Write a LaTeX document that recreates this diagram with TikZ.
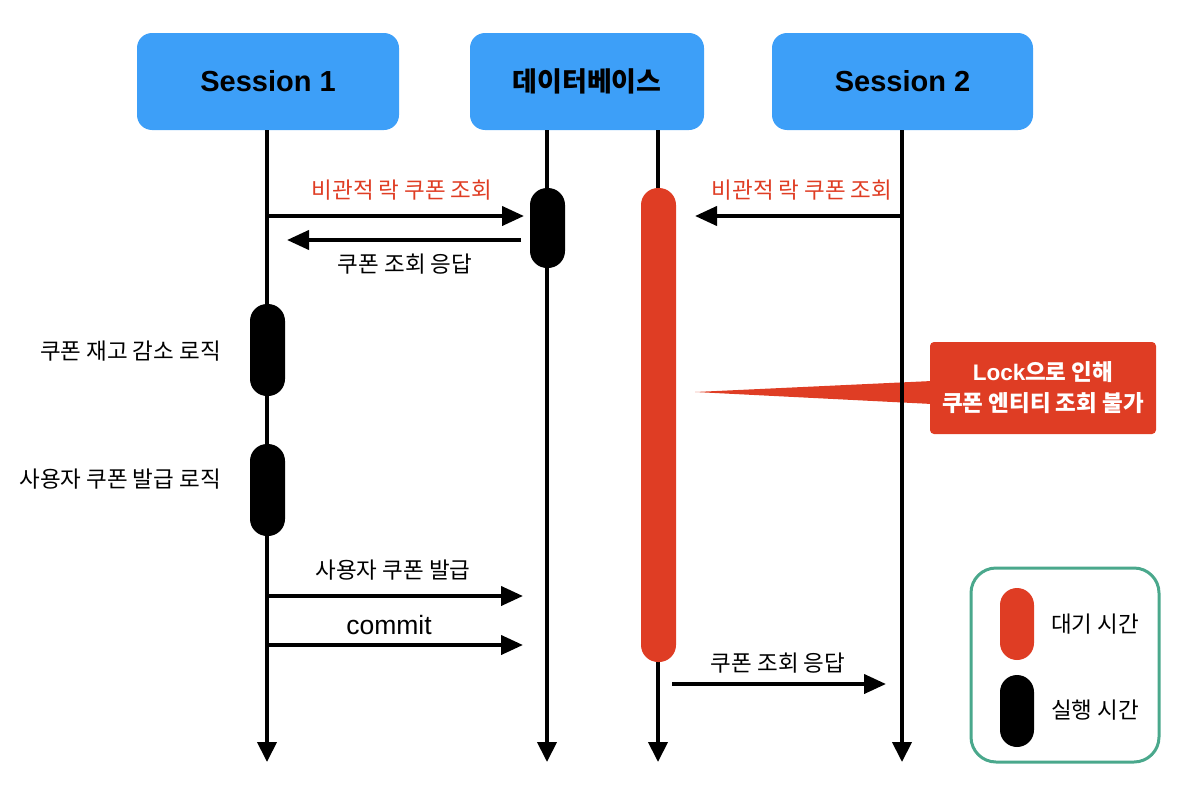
\documentclass[tikz,border=0pt]{standalone}
\usepackage{fontspec}
\setmainfont{Noto Sans CJK KR}
\newfontfamily\lat{Liberation Sans}
\usetikzlibrary{arrows.meta}
\definecolor{hdrblue}{RGB}{61,159,248}
\definecolor{lockred}{RGB}{223,61,36}
\definecolor{leggreen}{RGB}{74,168,140}
\tikzset{
  hdr/.style={fill=hdrblue, rounded corners=15pt, minimum width=262pt, minimum height=97pt, inner sep=0pt, font=\fontsize{29}{33}\selectfont\bfseries},
  life/.style={line width=4pt, -{Triangle[length=20pt,width=19pt]}},
  msg/.style={line width=4pt, -{Triangle[length=22pt,width=19pt]}},
  lbl/.style={font=\fontsize{22.5}{26}\selectfont, inner sep=0pt},
  redlbl/.style={lbl, text=lockred},
  pillblack/.style={fill=black, rounded corners=17pt},
  pillred/.style={fill=lockred, rounded corners=17pt},
}
\begin{document}
\begin{tikzpicture}[x=1pt,y=-1pt]
\useasboundingbox (0,0) rectangle (1191,795);
% headers
\node[hdr] (s1) at (268,81.5) {\lat\bfseries Session 1};
\node[hdr, minimum width=234pt, font=\fontsize{27}{32}\selectfont\bfseries] (db) at (587,81.5) {데이터베이스};
\node[hdr, minimum width=261pt] (s2) at (902.5,81.5) {\lat\bfseries Session 2};
% callout pointer (under lifelines)
\coordinate (calltip) at (695,392);
\fill[lockred] (932,381) -- (calltip) -- (932,404) -- cycle;
% lifeline coordinates
\coordinate (s1top) at (267,130);
\coordinate (s1end) at (267,762);
\coordinate (dbAtop) at (547,130);
\coordinate (dbAend) at (547,762);
\coordinate (dbBtop) at (658,130);
\coordinate (dbBend) at (658,762);
\coordinate (s2top) at (902,130);
\coordinate (s2end) at (902,762);
\draw[life] (s1top) -- (s1end);
\draw[life] (dbAtop) -- (dbAend);
\draw[life] (dbBtop) -- (dbBend);
\draw[life] (s2top) -- (s2end);
% activations
\fill[pillblack] (530,188) rectangle (565,268);
\fill[pillred] (641,188) rectangle (676,662);
\fill[pillblack] (250,304) rectangle (285,396);
\fill[pillblack] (250,444) rectangle (285,536);
% messages
\coordinate (m1s) at (267,216); \coordinate (m1e) at (524,216);
\draw[msg] (m1s) -- (m1e);
\node[redlbl] (m1l) at (402,190) {비관적 락 쿠폰 조회};
\coordinate (m2s) at (521,240); \coordinate (m2e) at (287,240);
\draw[msg] (m2s) -- (m2e);
\node[lbl] (m2l) at (405,264) {쿠폰 조회 응답};
\coordinate (m3s) at (902,216); \coordinate (m3e) at (695,216);
\draw[msg] (m3s) -- (m3e);
\node[redlbl] (m3l) at (802,190) {비관적 락 쿠폰 조회};
\coordinate (m4s) at (267,596); \coordinate (m4e) at (523,596);
\draw[msg] (m4s) -- (m4e);
\node[lbl] (m4l) at (393,570) {사용자 쿠폰 발급};
\coordinate (m5s) at (267,645); \coordinate (m5e) at (523,645);
\draw[msg] (m5s) -- (m5e);
\node[lbl, font=\fontsize{26.5}{29}\selectfont] (m5l) at (389,625) {\lat commit};
\coordinate (m6s) at (672,684); \coordinate (m6e) at (886,684);
\draw[msg] (m6s) -- (m6e);
\node[lbl] (m6l) at (778,663) {쿠폰 조회 응답};
% left labels
\node[lbl, anchor=east] (t1) at (221,351) {쿠폰 재고 감소 로직};
\node[lbl, anchor=east] (t2) at (221,479) {사용자 쿠폰 발급 로직};
% callout box
\node[fill=lockred, rounded corners=4pt, minimum width=226pt, minimum height=92pt, text=white, align=center, font=\fontsize{22.5}{31}\selectfont\bfseries, inner sep=0pt] (call) at (1043,388) {{\lat\bfseries Lock}으로 인해\\쿠폰 엔티티 조회 불가};
% legend
\node[draw=leggreen, line width=3pt, rounded corners=25pt, minimum width=188pt, minimum height=194pt] (leg) at (1065,665) {};
\fill[pillred] (1000,588) rectangle (1034,660);
\fill[pillblack] (1000,675) rectangle (1034,747);
\node[lbl] (lg1) at (1095,624) {대기 시간};
\node[lbl] (lg2) at (1095,710) {실행 시간};
\end{tikzpicture}
\end{document}
